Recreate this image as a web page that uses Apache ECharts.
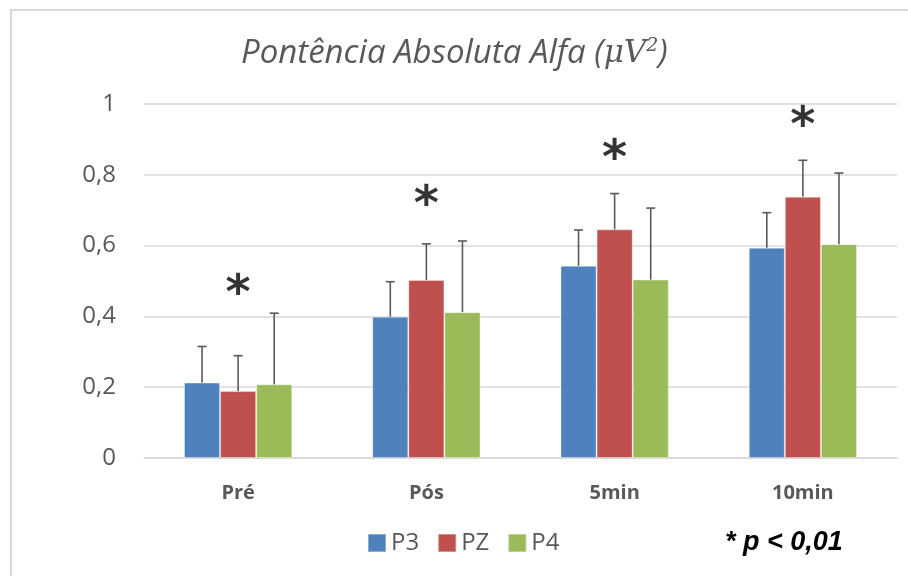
<!DOCTYPE html>
<html>
<head>
<meta charset="utf-8">
<script src="https://cdn.jsdelivr.net/npm/echarts@6/dist/echarts.min.js"></script>
<style>html,body{margin:0;padding:0;background:#fff;}#c{width:908px;height:576px;}</style>
</head>
<body>
<div id="c"></div>
<script>
var categories = ['Pré', 'Pós', '5min', '10min'];
var seriesNames = ['P3', 'PZ', 'P4'];
var colors = ['#4f81bd', '#c0504d', '#9bbb59'];
var p3 = [0.213, 0.399, 0.543, 0.594];
var pz = [0.189, 0.503, 0.646, 0.738];
var p4 = [0.208, 0.412, 0.504, 0.604];
var p3Err = [0.102, 0.099, 0.101, 0.099];
var pzErr = [0.100, 0.102, 0.101, 0.103];
var p4Err = [0.201, 0.201, 0.202, 0.201];
var starY = [0.483, 0.735, 0.865, 0.958];
var yTicks = [0, 0.2, 0.4, 0.6, 0.8, 1];

var values = [p3, pz, p4];
var errs = [p3Err, pzErr, p4Err];
var GAP = 0.425;

var chart = echarts.init(document.getElementById('c'));
var series = [];
values.forEach(function (v, i) {
  series.push({
    name: seriesNames[i], type: 'bar', data: v, barGap: '0%', barCategoryGap: (GAP * 100) + '%',
    itemStyle: { color: colors[i], borderColor: 'rgba(255,255,255,0.35)', borderWidth: 1 }, z: 2
  });
});
values.forEach(function (v, i) {
  series.push({
    type: 'custom', silent: true, z: 3,
    data: v.map(function (val, k) { return [k, val, val + errs[i][k]]; }),
    renderItem: function (params, api) {
      var cat = api.value(0);
      var base = api.coord([cat, api.value(1)]);
      var top = api.coord([cat, api.value(2)]);
      var cw = api.size([1, 0])[0];
      var bw = cw * (1 - GAP) / 3;
      var x = base[0] + (i - 1) * bw;
      var st = { stroke: '#595959', lineWidth: 1.6 };
      return { type: 'group', children: [
        { type: 'line', shape: { x1: x, y1: base[1], x2: x, y2: top[1] }, style: st },
        { type: 'line', shape: { x1: x - 4.5, y1: top[1], x2: x + 4.5, y2: top[1] }, style: st }
      ] };
    }
  });
});
series.push({
  type: 'scatter', symbolSize: 0, silent: true, z: 4,
  data: starY.map(function (y, k) { return [k, y]; }),
  label: { show: true, position: 'inside', formatter: '*', fontSize: 48, fontWeight: 'bold', color: '#000', textBorderWidth: 0, fontFamily: 'DejaVu Sans', offset: [0, 9] }
});

chart.setOption({
  animation: false,
  backgroundColor: '#fff',
  title: {
    text: '{a|Pontência Absoluta Alfa (}{b|μV}{c|2}{a|)}',
    left: 236, top: 32,
    textStyle: { rich: {
      a: { fontFamily: 'Open Sans', fontStyle: 'italic', fontWeight: 'normal', fontSize: 33, color: '#595959' },
      b: { fontFamily: 'DejaVu Serif', fontStyle: 'italic', fontWeight: 'normal', fontSize: 31, color: '#595959' },
      c: { fontFamily: 'DejaVu Serif', fontStyle: 'italic', fontWeight: 'normal', fontSize: 19, color: '#595959', verticalAlign: 'top', padding: [0, 0, 11, 0] }
    } }
  },
  legend: {
    data: seriesNames, top: 526, left: 362, itemWidth: 18, itemHeight: 18, itemGap: 18,
    icon: 'rect',
    textStyle: { fontFamily: 'Open Sans', fontSize: 24, color: '#595959' }
  },
  grid: { left: 144, right: 11, top: 104, bottom: 118, containLabel: false },
  xAxis: {
    type: 'category', data: categories,
    axisLine: { lineStyle: { color: '#d9d9d9', width: 1.5 } },
    axisTick: { show: false },
    axisLabel: { fontFamily: 'Open Sans', fontWeight: 'bold', fontSize: 20, color: '#595959', margin: 25 }
  },
  yAxis: {
    type: 'value', min: 0, max: 1, interval: 0.2,
    axisLine: { show: false }, axisTick: { show: false },
    splitLine: { lineStyle: { color: '#d9d9d9', width: 1.5 } },
    axisLabel: { fontFamily: 'Open Sans', fontSize: 24, color: '#595959', margin: 28,
      formatter: function (v) { return String(Math.round(v * 10) / 10).replace('.', ','); } }
  },
  graphic: [
    { type: 'rect', shape: { x: 11, y: 10, width: 920, height: 600 }, style: { fill: 'none', stroke: '#d9d9d9', lineWidth: 2 }, silent: true },
    { type: 'text', left: 725, top: 529, style: { text: '* p < 0,01', font: 'italic bold 27px "Liberation Sans"', fill: '#000' } }
  ],
  series: series
});
</script>
</body>
</html>
